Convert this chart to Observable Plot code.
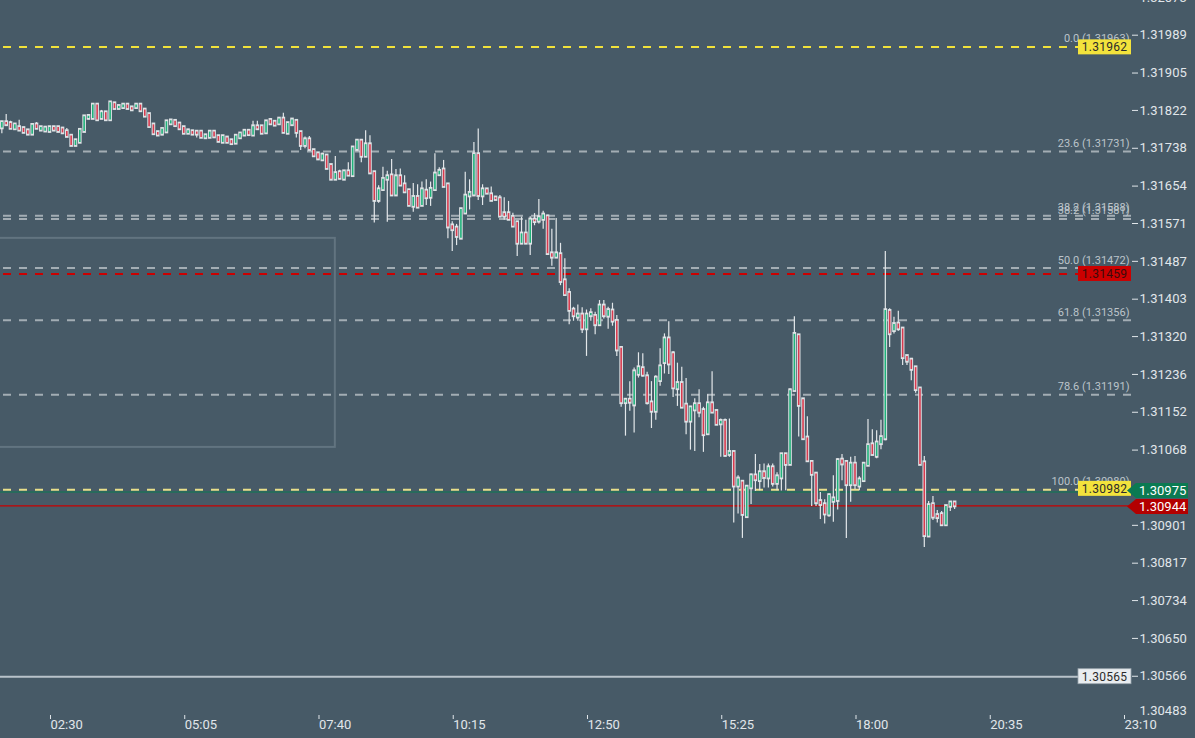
<!DOCTYPE html>
<html><head><meta charset="utf-8">
<script src="https://cdn.jsdelivr.net/npm/d3@7"></script>
<script src="https://cdn.jsdelivr.net/npm/@observablehq/plot@0.6"></script>
<style>
html,body{margin:0;padding:0;background:#475a67;overflow:hidden}
#chart svg{display:block}
</style></head><body><div id="chart"></div>
<script>
// ---- data ----
const candleStart = "01:35";
const candleStepMinutes = 5;
const opens = [
1.31783,1.31795,1.31793,1.31781,1.31784,1.31782,1.31777,1.31769,1.31790,1.31778,
1.31776,1.31775,1.31784,1.31784,1.31781,1.31775,1.31765,1.31744,1.31751,1.31775,
1.31804,1.31804,1.31834,1.31804,1.31817,1.31801,1.31837,1.31826,1.31828,1.31834,
1.31828,1.31828,1.31834,1.31823,1.31813,1.31790,1.31773,1.31769,1.31774,1.31792,
1.31798,1.31792,1.31784,1.31771,1.31775,1.31774,1.31774,1.31761,1.31762,1.31774,
1.31764,1.31751,1.31761,1.31755,1.31749,1.31761,1.31767,1.31776,1.31767,1.31786,
1.31786,1.31772,1.31800,1.31796,1.31792,1.31803,1.31771,1.31790,1.31798,1.31773,
1.31744,1.31757,1.31733,1.31726,1.31712,1.31721,1.31700,1.31669,1.31684,1.31669,
1.31686,1.31677,1.31735,1.31754,1.31720,1.31746,1.31684,1.31622,1.31646,1.31669,
1.31677,1.31634,1.31675,1.31657,1.31644,1.31609,1.31629,1.31611,1.31643,1.31629,
1.31646,1.31679,1.31690,1.31657,1.31566,1.31561,1.31538,1.31594,1.31632,1.31634,
1.31724,1.31632,1.31646,1.31635,1.31628,1.31626,1.31593,1.31593,1.31585,1.31573,
1.31527,1.31548,1.31527,1.31579,1.31576,1.31580,1.31586,1.31504,1.31496,1.31502,
1.31444,1.31416,1.31379,1.31363,1.31368,1.31337,1.31366,1.31365,1.31346,1.31388,
1.31365,1.31377,1.31354,1.31294,1.31173,1.31179,1.31168,1.31236,1.31249,1.31231,
1.31173,1.31154,1.31222,1.31262,1.31315,1.31282,1.31204,1.31216,1.31168,1.31132,
1.31157,1.31169,1.31156,1.31104,1.31171,1.31154,1.31126,1.31132,1.31058,1.31063,
1.30988,1.30997,1.30920,1.30984,1.31011,1.31000,1.31018,1.31006,1.31029,1.30994,
1.31006,1.31058,1.31036,1.31200,1.31322,1.31180,1.31095,1.31041,1.31015,1.30954,
1.30947,1.30924,1.30954,1.30956,1.31046,1.31041,1.30991,1.31037,1.30988,1.31000,
1.31034,1.31080,1.31054,1.31082,1.31093,1.31376,1.31333,1.31348,1.31337,1.31276,
1.31268,1.31251,1.31204,1.31040,1.30877,1.30947,1.30923,1.30925,1.30902,1.30943,
1.30951];
const highs = [
1.31798,1.31813,1.31798,1.31793,1.31800,1.31783,1.31778,1.31791,1.31795,1.31785,
1.31784,1.31785,1.31785,1.31785,1.31782,1.31782,1.31766,1.31756,1.31780,1.31811,
1.31813,1.31835,1.31835,1.31822,1.31818,1.31840,1.31838,1.31834,1.31835,1.31835,
1.31829,1.31835,1.31835,1.31824,1.31814,1.31793,1.31775,1.31782,1.31798,1.31800,
1.31800,1.31794,1.31785,1.31780,1.31776,1.31775,1.31775,1.31767,1.31775,1.31775,
1.31765,1.31765,1.31762,1.31756,1.31766,1.31773,1.31777,1.31777,1.31798,1.31798,
1.31787,1.31799,1.31804,1.31797,1.31804,1.31816,1.31794,1.31802,1.31799,1.31774,
1.31763,1.31764,1.31734,1.31727,1.31727,1.31722,1.31701,1.31720,1.31689,1.31687,
1.31706,1.31740,1.31757,1.31757,1.31777,1.31766,1.31685,1.31655,1.31696,1.31687,
1.31713,1.31691,1.31692,1.31677,1.31645,1.31660,1.31657,1.31663,1.31668,1.31663,
1.31726,1.31695,1.31711,1.31658,1.31575,1.31569,1.31605,1.31685,1.31668,1.31751,
1.31781,1.31657,1.31647,1.31652,1.31629,1.31633,1.31628,1.31620,1.31594,1.31574,
1.31585,1.31578,1.31586,1.31593,1.31624,1.31598,1.31589,1.31558,1.31582,1.31527,
1.31493,1.31426,1.31385,1.31390,1.31384,1.31379,1.31382,1.31374,1.31400,1.31400,
1.31385,1.31394,1.31367,1.31295,1.31181,1.31220,1.31250,1.31284,1.31282,1.31241,
1.31220,1.31233,1.31293,1.31326,1.31353,1.31287,1.31261,1.31252,1.31227,1.31165,
1.31182,1.31202,1.31163,1.31191,1.31242,1.31156,1.31137,1.31137,1.31137,1.31065,
1.31011,1.30998,1.30987,1.31015,1.31058,1.31036,1.31037,1.31037,1.31037,1.31018,
1.31060,1.31060,1.31204,1.31364,1.31324,1.31181,1.31142,1.31042,1.31016,1.30974,
1.30958,1.30971,1.31011,1.31049,1.31058,1.31043,1.31052,1.31054,1.31009,1.31039,
1.31136,1.31113,1.31111,1.31134,1.31509,1.31382,1.31363,1.31376,1.31338,1.31277,
1.31269,1.31252,1.31205,1.31054,1.30954,1.30965,1.30934,1.30932,1.30944,1.30952,
1.30952];
const lows = [
1.31770,1.31789,1.31780,1.31780,1.31775,1.31771,1.31768,1.31767,1.31780,1.31777,
1.31775,1.31774,1.31775,1.31774,1.31770,1.31762,1.31742,1.31742,1.31750,1.31774,
1.31803,1.31803,1.31798,1.31803,1.31800,1.31800,1.31825,1.31825,1.31827,1.31825,
1.31822,1.31827,1.31820,1.31808,1.31784,1.31769,1.31765,1.31766,1.31773,1.31789,
1.31786,1.31780,1.31770,1.31770,1.31768,1.31761,1.31761,1.31760,1.31761,1.31762,
1.31752,1.31750,1.31750,1.31745,1.31748,1.31759,1.31766,1.31767,1.31766,1.31778,
1.31770,1.31771,1.31791,1.31788,1.31791,1.31772,1.31770,1.31789,1.31761,1.31733,
1.31737,1.31734,1.31720,1.31713,1.31711,1.31692,1.31668,1.31668,1.31668,1.31668,
1.31677,1.31676,1.31733,1.31706,1.31718,1.31682,1.31572,1.31616,1.31645,1.31574,
1.31633,1.31633,1.31655,1.31640,1.31610,1.31596,1.31606,1.31610,1.31611,1.31609,
1.31644,1.31678,1.31652,1.31537,1.31509,1.31522,1.31537,1.31593,1.31601,1.31633,
1.31622,1.31611,1.31637,1.31621,1.31623,1.31586,1.31578,1.31578,1.31564,1.31498,
1.31526,1.31526,1.31500,1.31566,1.31570,1.31558,1.31500,1.31476,1.31495,1.31433,
1.31412,1.31346,1.31354,1.31354,1.31327,1.31276,1.31354,1.31324,1.31345,1.31359,
1.31336,1.31343,1.31276,1.31163,1.31099,1.31154,1.31106,1.31228,1.31230,1.31168,
1.31116,1.31134,1.31210,1.31237,1.31236,1.31185,1.31165,1.31162,1.31102,1.31068,
1.31065,1.31140,1.31063,1.31102,1.31151,1.31124,1.31052,1.31052,1.31052,1.30906,
1.30926,1.30872,1.30919,1.30947,1.30976,1.30978,1.30984,1.30984,1.30986,1.30978,
1.30977,1.30978,1.31035,1.31199,1.31097,1.31092,1.31043,1.30943,1.30943,1.30914,
1.30904,1.30919,1.30908,1.30935,1.31000,1.30872,1.30952,1.30980,1.30978,1.30999,
1.31033,1.31057,1.31049,1.31069,1.31089,1.31296,1.31326,1.31332,1.31256,1.31256,
1.31222,1.31194,1.31034,1.30852,1.30876,1.30912,1.30906,1.30900,1.30901,1.30932,
1.30936];
const closes = [
1.31795,1.31790,1.31782,1.31790,1.31778,1.31773,1.31769,1.31789,1.31782,1.31784,
1.31783,1.31784,1.31778,1.31775,1.31772,1.31764,1.31744,1.31755,1.31778,1.31808,
1.31809,1.31834,1.31801,1.31817,1.31801,1.31839,1.31826,1.31831,1.31834,1.31826,
1.31823,1.31834,1.31821,1.31809,1.31786,1.31770,1.31767,1.31780,1.31797,1.31799,
1.31788,1.31781,1.31771,1.31777,1.31769,1.31769,1.31762,1.31766,1.31774,1.31763,
1.31753,1.31764,1.31751,1.31748,1.31765,1.31770,1.31776,1.31768,1.31786,1.31781,
1.31771,1.31797,1.31792,1.31789,1.31803,1.31773,1.31793,1.31801,1.31773,1.31744,
1.31757,1.31735,1.31721,1.31714,1.31723,1.31693,1.31669,1.31682,1.31671,1.31686,
1.31678,1.31739,1.31754,1.31720,1.31746,1.31683,1.31622,1.31646,1.31669,1.31675,
1.31634,1.31675,1.31656,1.31641,1.31611,1.31629,1.31607,1.31646,1.31628,1.31647,
1.31681,1.31687,1.31653,1.31563,1.31557,1.31542,1.31602,1.31632,1.31638,1.31724,
1.31633,1.31646,1.31638,1.31622,1.31624,1.31587,1.31587,1.31580,1.31565,1.31527,
1.31548,1.31527,1.31579,1.31575,1.31584,1.31590,1.31504,1.31496,1.31504,1.31442,
1.31413,1.31378,1.31366,1.31368,1.31337,1.31368,1.31371,1.31346,1.31388,1.31366,
1.31378,1.31354,1.31290,1.31173,1.31179,1.31174,1.31242,1.31251,1.31234,1.31173,
1.31154,1.31228,1.31253,1.31315,1.31259,1.31206,1.31216,1.31163,1.31132,1.31162,
1.31169,1.31152,1.31102,1.31171,1.31152,1.31125,1.31132,1.31056,1.31063,1.30988,
1.31004,1.30925,1.30986,1.31011,1.31002,1.31018,1.31007,1.31029,1.30994,1.31009,
1.31058,1.31036,1.31200,1.31325,1.31167,1.31093,1.31044,1.31014,1.30951,1.30947,
1.30926,1.30967,1.30960,1.31045,1.31037,1.30991,1.31037,1.30991,1.31002,1.31037,
1.31078,1.31058,1.31084,1.31096,1.31378,1.31326,1.31347,1.31337,1.31273,1.31265,
1.31247,1.31202,1.31036,1.30878,1.30945,1.30919,1.30918,1.30902,1.30943,1.30951,
1.30944];

const timeTicks = ["02:30","05:05","07:40","10:15","12:50","15:25","18:00","20:35","23:10"];
const timeDomain = ["01:33:26","23:19:14"];
const priceTicks = [1.32073,1.31989,1.31905,1.31822,1.31738,1.31654,1.31571,1.31487,1.31403,1.31320,
  1.31236,1.31152,1.31068,1.30985,1.30901,1.30817,1.30734,1.30650,1.30566];
const lastPriceTick = 1.30483;
const priceDomain = [1.30490, 1.32066];

const fibLevels = ["0.0","23.6","38.2","38.2","50.0","61.8","78.6","100.0"];
const fibPrices = [1.31963,1.31731,1.31588,1.31581,1.31472,1.31356,1.31191,1.30980];

const zoneTimes = ["00:00","08:00"];
const zonePrices = [1.31074, 1.31538];

const redDashPrice = 1.31459;
const bidPrice = 1.30975;
const lastPrice = 1.30944;
const supportPrice = 1.30565;

const boxPrices = [1.31962, 1.31459, 1.30982, 1.30565];
const arrowPrices = [1.30975, 1.30944];

// ---- build ----
const T = s => { const [h, m, sec] = s.split(":").map(Number); return new Date(Date.UTC(2024, 0, 1, h, m, sec || 0)); };
const t0 = +T(candleStart);
const candles = opens.map((o, i) => ({
  time: new Date(t0 + i * candleStepMinutes * 60000),
  open: o, high: highs[i], low: lows[i], close: closes[i]
}));
const up = candles.filter(d => d.close >= d.open);
const down = candles.filter(d => d.close < d.open);
const fib = fibLevels.map((l, i) => ({level: l, price: fibPrices[i]}));
const fibEdge = fib.filter(d => d.level === "0.0" || d.level === "100.0");
const fibMid = fib.filter(d => !(d.level === "0.0" || d.level === "100.0"));

const BG = "#475a67";
const FONT = "Roboto, 'Noto Sans', sans-serif";

function tags(index, scales, values, dimensions) {
  const g = d3.create("svg:g").attr("font-family", FONT);
  const xr = dimensions.width - dimensions.marginRight;
  const boxStyle = [
    {fill: "#f3e33c", text: "#2b2b2b"},
    {fill: "#cc0000", text: "#3a0c0c"},
    {fill: "#f3e33c", text: "#2b2b2b"},
    {fill: "#e9edf0", text: "#2b2b2b"}
  ];
  boxPrices.forEach((p, i) => {
    const y = scales.y(p);
    g.append("rect").attr("x", xr - 53).attr("y", y - 7.5).attr("width", 53).attr("height", 15)
      .attr("fill", boxStyle[i].fill).attr("stroke", i === 3 ? "#9aa6ae" : "none").attr("stroke-width", 0.8);
    g.append("text").attr("x", xr - 26.5).attr("y", y).attr("dy", "0.36em")
      .attr("text-anchor", "middle").attr("font-size", 12).attr("letter-spacing", 0.3)
      .attr("fill", boxStyle[i].text).text(p.toFixed(5));
  });
  const arrowFill = ["#0b7a52", "#b30000"];
  const arrowOffsets = [-1, 1];
  arrowPrices.forEach((p, i) => {
    const y = scales.y(p) + arrowOffsets[i];
    const x0 = xr - 4, x1 = xr + 5, x2 = xr + 57, h = 7.5;
    g.append("path").attr("d", `M${x0},${y}L${x1},${y - h}L${x2},${y - h}L${x2},${y + h}L${x1},${y + h}Z`)
      .attr("fill", arrowFill[i]);
    g.append("text").attr("x", xr + 8).attr("y", y).attr("dy", "0.36em")
      .attr("text-anchor", "start").attr("font-size", 13).attr("fill", "#ffffff").text(p.toFixed(5));
  });
  return g.node();
}

const chart = Plot.plot({
  width: 1195, height: 738,
  marginLeft: 0, marginRight: 64, marginTop: 0, marginBottom: 28,
  style: {background: BG, color: "#e1e6ea", fontFamily: FONT, overflow: "hidden"},
  x: {type: "utc", domain: timeDomain.map(T)},
  y: {domain: priceDomain},
  marks: [
    Plot.rect([{x1: T(zoneTimes[0]), x2: T(zoneTimes[1]), y1: zonePrices[0], y2: zonePrices[1]}],
      {x1: "x1", x2: "x2", y1: "y1", y2: "y2", fill: "none", stroke: "#627480", strokeWidth: 2}),
    Plot.ruleY(fibMid, {y: "price", stroke: "#a3adb4", strokeWidth: 2, strokeDasharray: "8,8", strokeDashoffset: 13}),
    Plot.ruleY(fibEdge.slice(0, 1), {y: "price", stroke: "#f2e23a", strokeWidth: 2, strokeDasharray: "8,8", strokeDashoffset: 13}),
    Plot.ruleY(fibEdge.slice(1), {y: "price", stroke: "#e9df8a", strokeWidth: 2, strokeDasharray: "8,8", strokeDashoffset: 13}),
    Plot.ruleY([redDashPrice], {stroke: "#cc0000", strokeWidth: 2, strokeDasharray: "8,8", strokeDashoffset: 13}),
    Plot.ruleY([supportPrice], {stroke: "#b9c3ca", strokeWidth: 2}),
    Plot.ruleY([bidPrice], {stroke: "#0b7a52", strokeWidth: 1}),
    Plot.ruleY([lastPrice], {stroke: "#c80000", strokeWidth: 1.3}),
    Plot.text(fib, {y: "price", text: d => `${d.level} (${d.price.toFixed(5)})`, frameAnchor: "right",
      textAnchor: "end", lineAnchor: "bottom", dx: -2, dy: -4.5, fontSize: 11, fill: "#bcc4ca"}),
    Plot.ruleX(candles, {x: "time", y1: "low", y2: "high", stroke: "#e3e7ea", strokeWidth: 1.2}),
    Plot.ruleX(candles, {x: "time", y1: "open", y2: "close", stroke: "#dfe3e6", strokeWidth: 3.6, strokeLinecap: "square"}),
    Plot.ruleX(up, {x: "time", y1: "open", y2: "close", stroke: "#1fb27a", strokeWidth: 1.6}),
    Plot.ruleX(down, {x: "time", y1: "open", y2: "close", stroke: "#d83a4e", strokeWidth: 1.6}),
    Plot.axisY({anchor: "right", ticks: priceTicks, tickFormat: d => d.toFixed(5), tickSize: 6, tickPadding: 2, fontSize: 13}),
    Plot.text([lastPriceTick], {y: d => d, text: d => d.toFixed(5), frameAnchor: "right", dx: 8, dy: -3,
      textAnchor: "start", fontSize: 13, fill: "#e1e6ea"}),
    Plot.axisX({anchor: "bottom", ticks: timeTicks.map(T), tickFormat: d3.utcFormat("%H:%M"), tickSize: 4,
      tickPadding: 0, dy: 5, dx: 1, textAnchor: "start", fontSize: 13}),
    tags
  ]
});
document.getElementById("chart").appendChild(chart);
</script></body></html>
